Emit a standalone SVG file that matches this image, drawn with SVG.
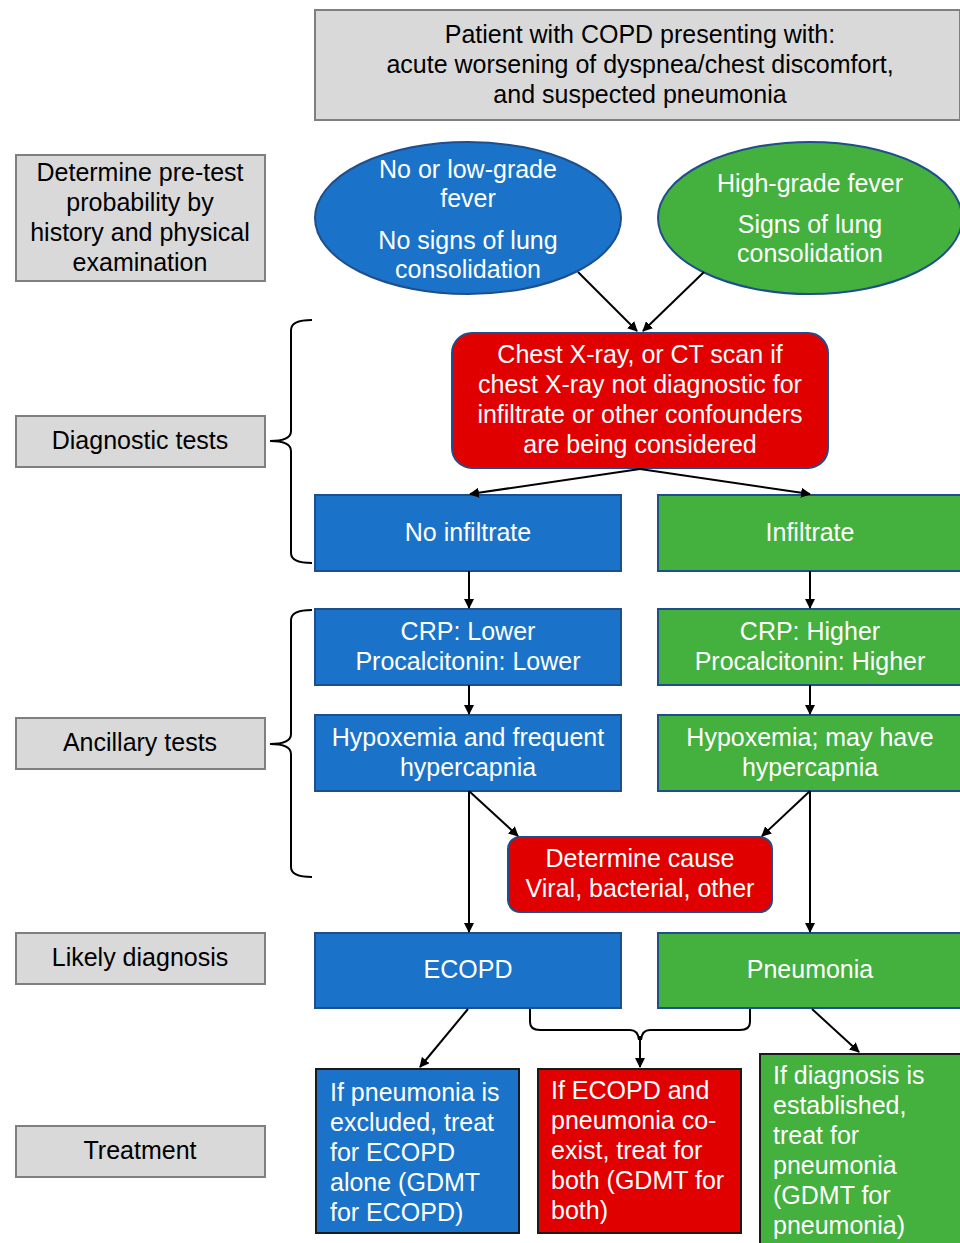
<svg xmlns="http://www.w3.org/2000/svg" width="960" height="1243" viewBox="0 0 960 1243">
  <style>
    .gray { fill: #d9d9d9; stroke: #7f7f7f; stroke-width: 2; }
    .blue { fill: #1a73c8; stroke: #1f4e8c; stroke-width: 2; }
    .green { fill: #44b03d; stroke: #1f4e8c; stroke-width: 2; }
    .red { fill: #e00000; stroke: #1f4e8c; stroke-width: 2; }
    .tblue { fill: #1a73c8; stroke: #1a1a1a; stroke-width: 2; }
    .tred { fill: #e00000; stroke: #1a1a1a; stroke-width: 2; }
    .tgreen { fill: #44b03d; stroke: #1a1a1a; stroke-width: 2; }
    text { font-family: "Liberation Sans", Arial, sans-serif; font-size: 25px; }
    .dark { fill: #000; text-anchor: middle; }
    .light { fill: #fff; text-anchor: middle; }
    .left { fill: #fff; text-anchor: start; }
    .line { fill: none; stroke: #000; stroke-width: 2; }
  </style>
  <defs>
    <marker id="arrow" markerWidth="10" markerHeight="10" refX="9" refY="5" orient="auto" markerUnits="userSpaceOnUse">
      <path d="M0,0 L10,5 L0,10 Z" fill="#000"/>
    </marker>
  </defs>

  <!-- header -->
  <g id="header">
    <rect class="gray" x="315" y="10" width="645" height="110"/>
    <text class="dark" x="640" y="43">Patient with COPD presenting with:</text>
    <text class="dark" x="640" y="73">acute worsening of dyspnea/chest discomfort,</text>
    <text class="dark" x="640" y="103">and suspected pneumonia</text>
  </g>

  <!-- stage labels -->
  <g id="stage-pretest">
    <rect class="gray" x="16" y="155" width="249" height="126"/>
    <text class="dark" x="140" y="181">Determine pre-test</text>
    <text class="dark" x="140" y="211">probability by</text>
    <text class="dark" x="140" y="241">history and physical</text>
    <text class="dark" x="140" y="271">examination</text>
  </g>
  <g id="stage-diagnostic">
    <rect class="gray" x="16" y="416" width="249" height="51"/>
    <text class="dark" x="140" y="449">Diagnostic tests</text>
  </g>
  <g id="stage-ancillary">
    <rect class="gray" x="16" y="718" width="249" height="51"/>
    <text class="dark" x="140" y="751">Ancillary tests</text>
  </g>
  <g id="stage-diagnosis">
    <rect class="gray" x="16" y="933" width="249" height="51"/>
    <text class="dark" x="140" y="966">Likely diagnosis</text>
  </g>
  <g id="stage-treatment">
    <rect class="gray" x="16" y="1126" width="249" height="51"/>
    <text class="dark" x="140" y="1159">Treatment</text>
  </g>

  <!-- clinical presentation -->
  <g id="low-fever">
    <ellipse class="blue" cx="468" cy="218" rx="153" ry="76"/>
    <text class="light" x="468" y="178">No or low-grade</text>
    <text class="light" x="468" y="207">fever</text>
    <text class="light" x="468" y="249">No signs of lung</text>
    <text class="light" x="468" y="278">consolidation</text>
  </g>
  <g id="high-fever">
    <ellipse class="green" cx="810" cy="218" rx="152" ry="76"/>
    <text class="light" x="810" y="192">High-grade fever</text>
    <text class="light" x="810" y="233">Signs of lung</text>
    <text class="light" x="810" y="262">consolidation</text>
  </g>

  <!-- imaging -->
  <g id="imaging">
    <rect class="red" x="452" y="333" width="376" height="135" rx="20"/>
    <text class="light" x="640" y="363">Chest X-ray, or CT scan if</text>
    <text class="light" x="640" y="393">chest X-ray not diagnostic for</text>
    <text class="light" x="640" y="423">infiltrate or other confounders</text>
    <text class="light" x="640" y="453">are being considered</text>
  </g>
  <g id="no-infiltrate">
    <rect class="blue" x="315" y="495" width="306" height="76"/>
    <text class="light" x="468" y="541">No infiltrate</text>
  </g>
  <g id="infiltrate">
    <rect class="green" x="658" y="495" width="306" height="76"/>
    <text class="light" x="810" y="541">Infiltrate</text>
  </g>

  <!-- biomarkers -->
  <g id="crp-lower">
    <rect class="blue" x="315" y="609" width="306" height="76"/>
    <text class="light" x="468" y="640">CRP: Lower</text>
    <text class="light" x="468" y="670">Procalcitonin: Lower</text>
  </g>
  <g id="crp-higher">
    <rect class="green" x="658" y="609" width="306" height="76"/>
    <text class="light" x="810" y="640">CRP: Higher</text>
    <text class="light" x="810" y="670">Procalcitonin: Higher</text>
  </g>
  <g id="gas-blue">
    <rect class="blue" x="315" y="715" width="306" height="76"/>
    <text class="light" x="468" y="746">Hypoxemia and frequent</text>
    <text class="light" x="468" y="776">hypercapnia</text>
  </g>
  <g id="gas-green">
    <rect class="green" x="658" y="715" width="306" height="76"/>
    <text class="light" x="810" y="746">Hypoxemia; may have</text>
    <text class="light" x="810" y="776">hypercapnia</text>
  </g>
  <g id="cause">
    <rect class="red" x="508" y="837" width="264" height="75" rx="12"/>
    <text class="light" x="640" y="867">Determine cause</text>
    <text class="light" x="640" y="897">Viral, bacterial, other</text>
  </g>

  <!-- diagnoses -->
  <g id="ecopd">
    <rect class="blue" x="315" y="933" width="306" height="75"/>
    <text class="light" x="468" y="978">ECOPD</text>
  </g>
  <g id="pneumonia">
    <rect class="green" x="658" y="933" width="306" height="75"/>
    <text class="light" x="810" y="978">Pneumonia</text>
  </g>

  <!-- treatment -->
  <g id="treat-ecopd">
    <rect class="tblue" x="316" y="1069" width="203" height="164"/>
    <text class="left" x="330" y="1101">If pneumonia is</text>
    <text class="left" x="330" y="1131">excluded, treat</text>
    <text class="left" x="330" y="1161">for ECOPD</text>
    <text class="left" x="330" y="1191">alone (GDMT</text>
    <text class="left" x="330" y="1221">for ECOPD)</text>
  </g>
  <g id="treat-both">
    <rect class="tred" x="538" y="1069" width="203" height="164"/>
    <text class="left" x="551" y="1099">If ECOPD and</text>
    <text class="left" x="551" y="1129">pneumonia co-</text>
    <text class="left" x="551" y="1159">exist, treat for</text>
    <text class="left" x="551" y="1189">both (GDMT for</text>
    <text class="left" x="551" y="1219">both)</text>
  </g>
  <g id="treat-pneumonia">
    <rect class="tgreen" x="760" y="1054" width="204" height="195"/>
    <text class="left" x="773" y="1084">If diagnosis is</text>
    <text class="left" x="773" y="1114">established,</text>
    <text class="left" x="773" y="1144">treat for</text>
    <text class="left" x="773" y="1174">pneumonia</text>
    <text class="left" x="773" y="1204">(GDMT for</text>
    <text class="left" x="773" y="1234">pneumonia)</text>
  </g>

  <!-- connectors -->
  <g id="connectors">
    <path class="line" d="M312,320 Q291,320 291,330 L291,431 Q291,441 270,441 Q291,441 291,451 L291,553 Q291,563 312,563"/>
    <path class="line" d="M312,610 Q291,610 291,620 L291,734 Q291,744 270,744 Q291,744 291,754 L291,867 Q291,877 312,877"/>
    <line class="line" x1="578" y1="272" x2="637" y2="331" marker-end="url(#arrow)"/>
    <line class="line" x1="704" y1="272" x2="643" y2="331" marker-end="url(#arrow)"/>
    <line class="line" x1="640" y1="469" x2="470" y2="494" marker-end="url(#arrow)"/>
    <line class="line" x1="640" y1="469" x2="810" y2="494" marker-end="url(#arrow)"/>
    <line class="line" x1="469" y1="571" x2="469" y2="608" marker-end="url(#arrow)"/>
    <line class="line" x1="810" y1="571" x2="810" y2="608" marker-end="url(#arrow)"/>
    <line class="line" x1="469" y1="685" x2="469" y2="714" marker-end="url(#arrow)"/>
    <line class="line" x1="810" y1="685" x2="810" y2="714" marker-end="url(#arrow)"/>
    <line class="line" x1="469" y1="791" x2="518" y2="836" marker-end="url(#arrow)"/>
    <line class="line" x1="810" y1="791" x2="762" y2="836" marker-end="url(#arrow)"/>
    <line class="line" x1="469" y1="791" x2="469" y2="932" marker-end="url(#arrow)"/>
    <line class="line" x1="810" y1="791" x2="810" y2="932" marker-end="url(#arrow)"/>
    <line class="line" x1="468" y1="1009" x2="420" y2="1067" marker-end="url(#arrow)"/>
    <path class="line" d="M530,1009 L530,1022 Q530,1030 540,1030 L630,1030 Q638,1030 639,1040"/>
    <path class="line" d="M750,1009 L750,1022 Q750,1030 740,1030 L650,1030 Q642,1030 641,1040"/>
    <line class="line" x1="640" y1="1036" x2="640" y2="1067" marker-end="url(#arrow)"/>
    <line class="line" x1="812" y1="1009" x2="859" y2="1052" marker-end="url(#arrow)"/>
  </g>
</svg>
